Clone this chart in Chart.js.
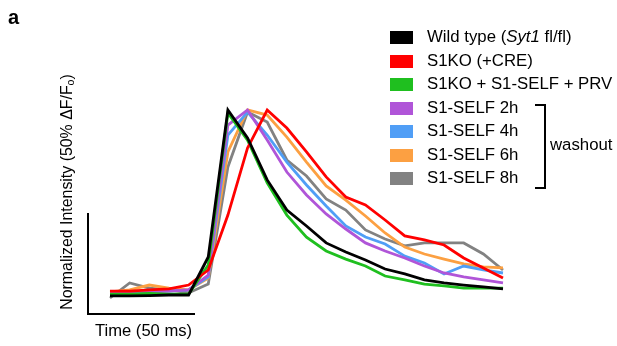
<!DOCTYPE html>
<html>
<head>
<meta charset="utf-8">
<script src="https://cdn.jsdelivr.net/npm/chart.js@4"></script>
<style>
  body { margin: 0; background: #fff; font-family: Arial, "Liberation Sans", sans-serif; }
  #wrap { position: relative; width: 617px; height: 346px; overflow: hidden; }
  #chart { position: absolute; left: 0; top: 0; }
  .txt { position: absolute; color: #000; white-space: nowrap; font-size: 16.6px; line-height: 1; }
  .sw { position: absolute; width: 23px; height: 13px; }
  .bar { position: absolute; background: #000; }
  sub { font-size: 10.5px; vertical-align: -2px; }
</style>
</head>
<body>
<div id="wrap">
  <canvas id="chart" width="617" height="346"></canvas>
  <div class="txt" style="left:8px;top:7px;font-size:20px;font-weight:bold;">a</div>
  <div class="txt" style="left:67px;top:192px;font-size:15.9px;transform:translate(-50%,-50%) rotate(-90deg);">Normalized Intensity (50% ΔF/F<sub>o</sub>)</div>
  <div class="bar" style="left:87px;top:213px;width:2px;height:102px;"></div>
  <div class="bar" style="left:87px;top:313px;width:108px;height:2px;"></div>
  <div class="txt" style="left:95px;top:323px;">Time (50 ms)</div>
  <div id="legend"></div>
  <div class="bar" style="left:544px;top:104px;width:2px;height:85px;"></div>
  <div class="bar" style="left:535px;top:104px;width:10px;height:2px;"></div>
  <div class="bar" style="left:535px;top:187px;width:10px;height:2px;"></div>
  <div class="txt" style="left:550px;top:137px;font-size:16.8px;">washout</div>
</div>
<script>
// time points (one frame = 50 ms bins)
const timePoints = [1, 2, 3, 4, 5, 6, 7, 8, 9, 10, 11, 12, 13, 14, 15, 16, 17, 18, 19, 20, 21];

const seriesNames = ['Wild type (Syt1 fl/fl)', 'S1KO (+CRE)', 'S1KO + S1-SELF + PRV',
  'S1-SELF 2h', 'S1-SELF 4h', 'S1-SELF 6h', 'S1-SELF 8h'];
const seriesColors = ['#000000', '#ff0000', '#1fbf1f', '#b055d8', '#509ef6', '#fca042', '#828282'];

// normalized intensity
const wildType = [0.011, 0.011, 0.013, 0.016, 0.016, 0.218, 1.0, 0.851, 0.628, 0.468, 0.383, 0.293, 0.245, 0.202, 0.154, 0.128, 0.096, 0.080, 0.069, 0.059, 0.048];
const s1ko = [0.037, 0.037, 0.043, 0.048, 0.069, 0.149, 0.441, 0.798, 1.0, 0.904, 0.777, 0.644, 0.537, 0.495, 0.415, 0.330, 0.309, 0.282, 0.213, 0.160, 0.106];
const s1koSelfPrv = [0.021, 0.021, 0.024, 0.021, 0.021, 0.176, 0.984, 0.840, 0.612, 0.441, 0.324, 0.250, 0.207, 0.170, 0.117, 0.096, 0.074, 0.064, 0.053, 0.053, 0.053];
const self2h = [0.027, 0.032, 0.032, 0.037, 0.043, 0.122, 0.920, 1.0, 0.840, 0.670, 0.548, 0.447, 0.367, 0.293, 0.250, 0.213, 0.170, 0.133, 0.112, 0.096, 0.080];
const self4h = [0.027, 0.032, 0.037, 0.037, 0.043, 0.112, 0.867, 0.989, 0.867, 0.723, 0.601, 0.489, 0.383, 0.324, 0.287, 0.223, 0.186, 0.128, 0.170, 0.149, 0.133];
const self6h = [0.032, 0.043, 0.069, 0.053, 0.043, 0.106, 0.777, 1.0, 0.973, 0.856, 0.723, 0.596, 0.521, 0.436, 0.346, 0.271, 0.234, 0.207, 0.181, 0.165, 0.160];
const self8h = [0.0, 0.080, 0.053, 0.043, 0.027, 0.074, 0.697, 0.989, 0.936, 0.734, 0.649, 0.527, 0.468, 0.362, 0.314, 0.277, 0.293, 0.293, 0.293, 0.234, 0.149];

const allSeries = [wildType, s1ko, s1koSelfPrv, self2h, self4h, self6h, self8h];

// legend (custom, right side)
const legend = document.getElementById('legend');
seriesNames.forEach((name, i) => {
  const y = 31 + i * 23.5;
  const sw = document.createElement('div');
  sw.className = 'sw';
  sw.style.left = '390px';
  sw.style.top = y + 'px';
  sw.style.background = seriesColors[i];
  legend.appendChild(sw);
  const t = document.createElement('div');
  t.className = 'txt';
  t.style.left = '427px';
  t.style.top = (y - 2) + 'px';
  t.style.fontSize = '16.8px';
  if (i === 0) {
    t.innerHTML = 'Wild type (<i>Syt1</i> fl/fl)';
  } else {
    t.textContent = name;
  }
  legend.appendChild(t);
});

const ctx = document.getElementById('chart').getContext('2d');
new Chart(ctx, {
  type: 'line',
  data: {
    labels: timePoints,
    datasets: allSeries.map((d, i) => ({
      label: seriesNames[i],
      data: d,
      borderColor: seriesColors[i],
      backgroundColor: seriesColors[i],
      borderWidth: 2.8,
      pointRadius: 0,
      tension: 0,
      fill: false,
      clip: false
    }))
  },
  options: {
    responsive: false,
    animation: false,
    devicePixelRatio: 1,
    layout: { padding: { left: 110, right: 114, top: 110, bottom: 44.24 } },
    plugins: { legend: { display: false }, tooltip: { enabled: false } },
    scales: {
      x: { display: false, offset: false },
      y: { display: false, min: -0.02, max: 1.0 }
    }
  }
});
</script>
</body>
</html>
